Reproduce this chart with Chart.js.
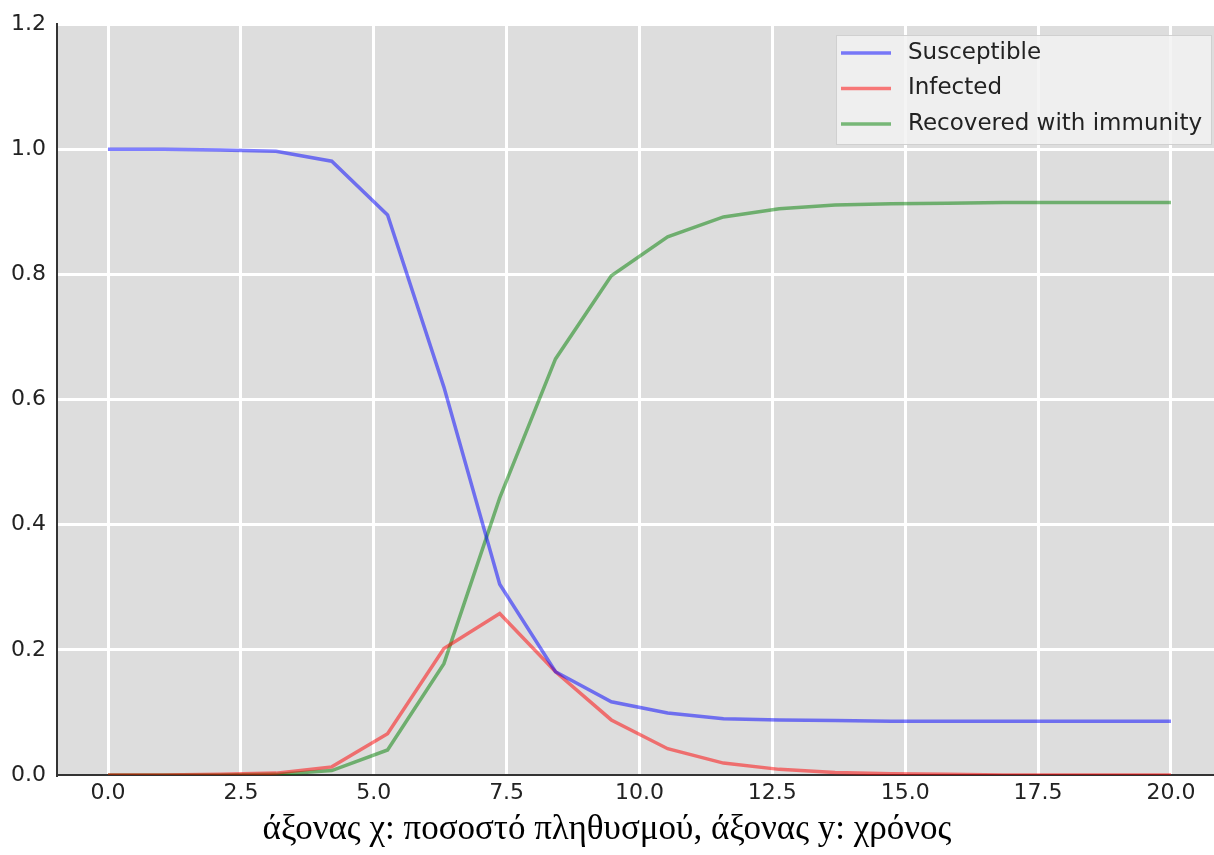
<!DOCTYPE html>
<html>
<head>
<meta charset="utf-8">
<script src="https://cdn.jsdelivr.net/npm/chart.js@4.4.0/dist/chart.umd.min.js"></script>
<style>
  html, body { margin: 0; padding: 0; background: #ffffff; }
  #wrap { width: 1214px; height: 855px; }
</style>
</head>
<body>
<div id="wrap"><canvas id="chart"></canvas></div>
<script>
// time points (x) and the three SIR curves
const times = [0, 1.05, 2.11, 3.16, 4.21, 5.26, 6.32, 7.37, 8.42, 9.47,
  10.53, 11.58, 12.63, 13.68, 14.74, 15.79, 16.84, 17.89, 18.95, 20];
const susceptible = [1.0, 1.0, 0.999, 0.997, 0.981, 0.895, 0.62, 0.305, 0.165, 0.117,
  0.099, 0.090, 0.088, 0.087, 0.086, 0.086, 0.086, 0.086, 0.086, 0.086];
const infected = [0.0, 0.0, 0.001, 0.003, 0.013, 0.066, 0.202, 0.258, 0.165, 0.088,
  0.042, 0.019, 0.009, 0.004, 0.002, 0.001, 0.0, 0.0, 0.0, 0.0];
const recovered = [0.0, 0.0, 0.0, 0.001, 0.007, 0.040, 0.178, 0.443, 0.665, 0.798,
  0.860, 0.892, 0.905, 0.911, 0.913, 0.914, 0.915, 0.915, 0.915, 0.915];

const seriesNames = ["Susceptible", "Infected", "Recovered with immunity"];
const xTicks = [0, 2.5, 5, 7.5, 10, 12.5, 15, 17.5, 20];
const yTicks = [0, 0.2, 0.4, 0.6, 0.8, 1.0, 1.2];
const xTitle = "άξονας χ: ποσοστό πληθυσμού, άξονας y: χρόνος";

const tickFont = { family: "'DejaVu Sans', sans-serif", size: 22 };

function pts(ys) {
  return times.map((t, i) => ({ x: t, y: ys[i] }));
}

// gray plot background
const plotBg = {
  id: "plotBg",
  beforeDraw(chart) {
    const { ctx, chartArea: a } = chart;
    ctx.save();
    ctx.fillStyle = "#dddddd";
    ctx.fillRect(a.left, a.top, a.right - a.left, a.bottom - a.top);
    ctx.restore();
  },
};

// matplotlib-like legend box in the upper right
const boxLegend = {
  id: "boxLegend",
  afterDatasetsDraw(chart) {
    const { ctx } = chart;
    const x0 = 836, y0 = 35, w = 376, h = 110;
    ctx.save();
    ctx.fillStyle = "rgba(242,242,242,0.85)";
    ctx.fillRect(x0, y0, w, h);
    ctx.strokeStyle = "rgba(200,200,200,0.8)";
    ctx.lineWidth = 1;
    ctx.strokeRect(x0 + 0.5, y0 + 0.5, w - 1, h - 1);
    ctx.font = "23px 'DejaVu Sans', sans-serif";
    ctx.textBaseline = "middle";
    chart.data.datasets.forEach((ds, i) => {
      const y = 53 + i * 35.5;
      ctx.strokeStyle = ds.borderColor;
      ctx.lineWidth = 3.5;
      ctx.beginPath();
      ctx.moveTo(841, y);
      ctx.lineTo(891, y);
      ctx.stroke();
      ctx.fillStyle = "#222222";
      ctx.fillText(ds.label, 908, y);
    });
    ctx.restore();
  },
};

new Chart(document.getElementById("chart"), {
  type: "line",
  data: {
    datasets: [
      { label: seriesNames[0], data: pts(susceptible), borderColor: "rgba(0,0,255,0.5)" },
      { label: seriesNames[1], data: pts(infected), borderColor: "rgba(255,0,0,0.5)" },
      { label: seriesNames[2], data: pts(recovered), borderColor: "rgba(0,128,0,0.5)" },
    ].map(d => Object.assign(d, { borderWidth: 3.5, pointRadius: 0, tension: 0, fill: false })),
  },
  options: {
    responsive: true,
    maintainAspectRatio: false,
    animation: false,
    layout: { autoPadding: false, padding: { top: 22, left: 0, right: 0, bottom: 0 } },
    plugins: {
      legend: { display: false },
      tooltip: { enabled: false },
      title: {
        display: true,
        position: "bottom",
        text: xTitle,
        color: "#000000",
        font: { family: "'Liberation Serif', 'DejaVu Serif', serif", size: 35, weight: "normal" },
        padding: { top: 4, bottom: 4 },
      },
    },
    scales: {
      x: {
        type: "linear",
        min: -0.96,
        max: 20.81,
        afterBuildTicks: s => { s.ticks = xTicks.map(v => ({ value: v })); },
        afterFit: s => { s.height = 30; },
        ticks: { color: "#222222", font: tickFont, padding: 5, maxRotation: 0,
          callback: v => v.toFixed(1) },
        grid: { color: "#ffffff", lineWidth: 3, drawTicks: false },
        border: { display: true, color: "#333333", width: 2 },
      },
      y: {
        min: 0,
        max: 1.2,
        afterBuildTicks: s => { s.ticks = yTicks.map(v => ({ value: v })); },
        afterFit: s => { s.width = 57; },
        ticks: { color: "#222222", font: tickFont, padding: 11,
          callback: v => v.toFixed(1) },
        grid: { color: "#ffffff", lineWidth: 3, drawTicks: false },
        border: { display: true, color: "#333333", width: 2 },
      },
    },
  },
  plugins: [plotBg, boxLegend],
});
</script>
</body>
</html>
